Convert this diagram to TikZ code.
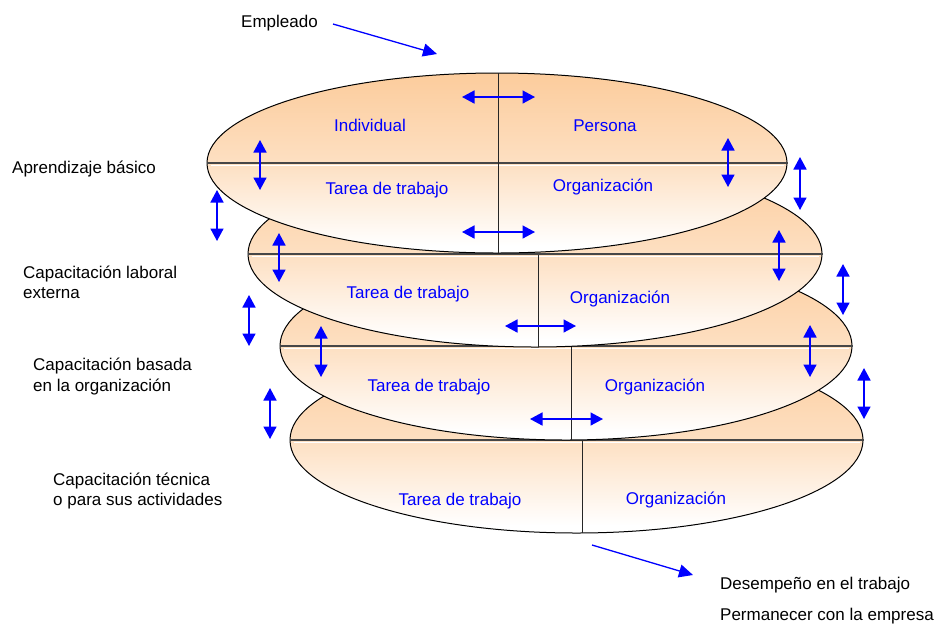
\documentclass[tikz,border=0pt]{standalone}
\usepackage{fontspec}
\setmainfont{Liberation Sans}
\usetikzlibrary{arrows.meta,shapes.geometric}
\definecolor{peach}{RGB}{252,204,156}
\definecolor{arrowblue}{RGB}{0,0,255}
\pgfdeclareverticalshading{discshade}{100bp}{color(0bp)=(white); color(27bp)=(white); color(50bp)=(peach!62!white); color(75bp)=(peach); color(100bp)=(peach)}
\begin{document}
\begin{tikzpicture}[x=1pt,y=-1pt,
  disc/.style={ellipse, draw=black, line width=1pt, shading=discshade, inner sep=0pt},
  hdivider/.style={draw=black!72, line width=1.5pt},
  vdivider/.style={draw=black!85, line width=1pt},
  shine/.style={draw=white, line width=0.8pt},
  dbl/.style={draw=arrowblue, line width=1.6pt, {Triangle[length=12.5pt,width=13pt]}-{Triangle[length=12.5pt,width=13pt]}},
  sarr/.style={draw=arrowblue, line width=1.3pt, -{Triangle[length=14pt,width=13pt]}},
  lbl/.style={font=\fontsize{17}{20.5}\selectfont, text=black, align=left, inner sep=0pt, anchor=base west},
  inlbl/.style={font=\fontsize{17}{20}\selectfont, text=arrowblue, inner sep=0pt, anchor=base},
]
\useasboundingbox (0,0) rectangle (940,625);

% ---- disc 4 (bottom)
\node[disc, minimum width=573pt, minimum height=186pt] (e4) at (576.5,440) {};
\draw[hdivider] (e4.west) -- (e4.east);
\draw[shine] ([shift={(4,2)}]e4.west) -- ([shift={(-4,2)}]e4.east);
\draw[vdivider] (582,441) -- (582,533);

% ---- disc 3
\node[disc, minimum width=572pt, minimum height=188pt] (e3) at (566,346) {};
\draw[hdivider] (e3.west) -- (e3.east);
\draw[shine] ([shift={(4,2)}]e3.west) -- ([shift={(-4,2)}]e3.east);
\draw[vdivider] (571,347) -- (571,440);

% ---- disc 2
\node[disc, minimum width=574pt, minimum height=186pt] (e2) at (535,254) {};
\draw[hdivider] (e2.west) -- (e2.east);
\draw[shine] ([shift={(4,2)}]e2.west) -- ([shift={(-4,2)}]e2.east);
\draw[vdivider] (538,255) -- (538,347);

% ---- disc 1 (top)
\node[disc, minimum width=580pt, minimum height=180pt] (e1) at (497,163) {};
\draw[hdivider] (e1.west) -- (e1.east);
\draw[shine] ([shift={(4,2)}]e1.west) -- ([shift={(-4,2)}]e1.east);
\draw[vdivider] (498,73) -- (498,253);

% ---- texts inside discs
\node[inlbl] (t1a) at (370,131) {Individual};
\node[inlbl] (t1b) at (605,131) {Persona};
\node[inlbl] (t1c) at (387,194) {Tarea de trabajo};
\node[inlbl] (t1d) at (603,191) {Organización};
\node[inlbl] (t2a) at (408,298) {Tarea de trabajo};
\node[inlbl] (t2b) at (620,303) {Organización};
\node[inlbl] (t3a) at (429,391) {Tarea de trabajo};
\node[inlbl] (t3b) at (655,391) {Organización};
\node[inlbl] (t4a) at (460,505) {Tarea de trabajo};
\node[inlbl] (t4b) at (676,504) {Organización};

% ---- outside labels (base = last line)
\node[lbl] (empleado) at (241,27) {Empleado};
\node[lbl] (l1) at (12,173) {Aprendizaje básico};
\node[lbl] (l2) at (23,298.5) {Capacitación laboral\\externa};
\node[lbl] (l3) at (33,391) {Capacitación basada\\en la organización};
\node[lbl] (l4) at (53,505.5) {Capacitación técnica\\o para sus actividades};
\node[lbl] (r1) at (720,589) {Desempeño en el trabajo};
\node[lbl] (r2) at (720,620) {Permanecer con la empresa};

% ---- in / out arrows
\coordinate (inS) at (333,24);
\coordinate (inE) at (437,54);
\draw[sarr] (inS) -- (inE);
\coordinate (outS) at (592,545);
\coordinate (outE) at (693,575);
\draw[sarr] (outS) -- (outE);

% ---- double arrows, disc 1
\draw[dbl] (462,97) -- (535,97);
\draw[dbl] (462,232) -- (535,232);
\draw[dbl] (260,140) -- (260,190);
\draw[dbl] (728,138) -- (728,187);
\draw[dbl] (800,157) -- (800,210);
\draw[dbl] (217,190) -- (217,241);
% ---- double arrows, disc 2
\draw[dbl] (279,233) -- (279,282);
\draw[dbl] (779,230) -- (779,281);
\draw[dbl] (505,326) -- (576,326);
\draw[dbl] (249,295) -- (249,346);
\draw[dbl] (843,264) -- (843,315);
% ---- double arrows, disc 3
\draw[dbl] (321,326) -- (321,377);
\draw[dbl] (810,325) -- (810,377);
\draw[dbl] (530,419) -- (603,419);
\draw[dbl] (270,388) -- (270,439);
\draw[dbl] (864,368) -- (864,419);
\end{tikzpicture}
\end{document}
